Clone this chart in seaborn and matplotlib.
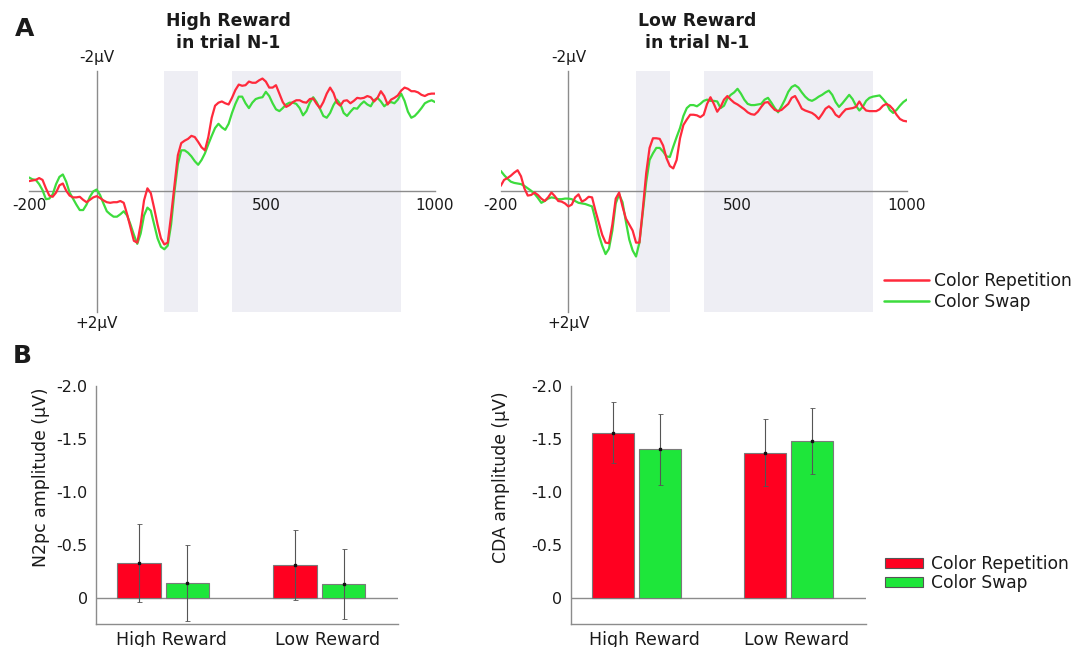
import numpy as np
import pandas as pd
import matplotlib
matplotlib.use("Agg")
import matplotlib.pyplot as plt
import matplotlib.transforms as mtrans
from matplotlib.lines import Line2D
from matplotlib.patches import Patch
import seaborn as sns

# ---------------- data ----------------
times = np.arange(-200, 1001, 10)  # ms, sampling grid of the ERP traces

# High reward in trial N-1 (µV)
hr_rep = [-0.17, -0.18, -0.19, -0.22, -0.19, -0.05, 0.07, 0.09, 0.02, -0.10,
          -0.13, -0.01, 0.07, 0.10, 0.10, 0.09, 0.14, 0.18, 0.14, 0.10,
          0.08, 0.11, 0.15, 0.18, 0.19, 0.18, 0.18, 0.16, 0.19, 0.38,
          0.60, 0.82, 0.85, 0.55, 0.15, -0.05, 0.03, 0.28, 0.55, 0.78,
          0.88, 0.85, 0.40, -0.10, -0.60, -0.80, -0.84, -0.87, -0.92, -0.90,
          -0.82, -0.73, -0.68, -0.90, -1.22, -1.42, -1.47, -1.49, -1.46, -1.44,
          -1.55, -1.68, -1.77, -1.75, -1.76, -1.82, -1.80, -1.80, -1.84, -1.87,
          -1.82, -1.72, -1.72, -1.76, -1.62, -1.48, -1.40, -1.43, -1.48, -1.51,
          -1.51, -1.48, -1.47, -1.53, -1.54, -1.45, -1.38, -1.48, -1.62, -1.72,
          -1.63, -1.47, -1.42, -1.50, -1.51, -1.46, -1.50, -1.55, -1.54, -1.55,
          -1.58, -1.56, -1.49, -1.55, -1.66, -1.58, -1.44, -1.52, -1.55, -1.59,
          -1.67, -1.72, -1.70, -1.66, -1.66, -1.64, -1.60, -1.58, -1.61, -1.62,
          -1.62]
hr_swap = [-0.23, -0.20, -0.19, -0.12, -0.02, 0.13, 0.12, 0.05, -0.12, -0.24,
           -0.28, -0.16, 0.02, 0.12, 0.22, 0.31, 0.31, 0.22, 0.09, 0.00,
           -0.03, 0.06, 0.20, 0.33, 0.38, 0.42, 0.42, 0.38, 0.33, 0.40,
           0.55, 0.72, 0.87, 0.70, 0.40, 0.27, 0.32, 0.55, 0.78, 0.92,
           0.96, 0.90, 0.55, 0.00, -0.45, -0.68, -0.68, -0.64, -0.58, -0.50,
           -0.44, -0.52, -0.63, -0.78, -0.92, -1.05, -1.12, -1.06, -1.02, -1.12,
           -1.30, -1.45, -1.57, -1.57, -1.46, -1.38, -1.47, -1.53, -1.55, -1.56,
           -1.65, -1.58, -1.46, -1.36, -1.33, -1.38, -1.44, -1.47, -1.47, -1.45,
           -1.38, -1.26, -1.33, -1.47, -1.56, -1.48, -1.37, -1.25, -1.22, -1.30,
           -1.43, -1.52, -1.45, -1.30, -1.25, -1.32, -1.38, -1.37, -1.44, -1.49,
           -1.44, -1.41, -1.51, -1.55, -1.49, -1.41, -1.46, -1.48, -1.46, -1.52,
           -1.62, -1.50, -1.32, -1.22, -1.25, -1.31, -1.38, -1.46, -1.49, -1.51,
           -1.48]

# Low reward in trial N-1 (µV)
lr_rep = [-0.09, -0.19, -0.22, -0.26, -0.31, -0.35, -0.25, -0.05, 0.07, 0.06,
          0.02, 0.06, 0.12, 0.16, 0.10, 0.02, 0.08, 0.16, 0.17, 0.20,
          0.25, 0.22, 0.10, 0.05, 0.17, 0.14, 0.09, 0.10, 0.32, 0.52,
          0.72, 0.85, 0.86, 0.55, 0.12, 0.02, 0.25, 0.45, 0.55, 0.65,
          0.85, 0.85, 0.30, -0.30, -0.72, -0.88, -0.88, -0.87, -0.76, -0.55,
          -0.42, -0.38, -0.52, -0.88, -1.10, -1.19, -1.27, -1.27, -1.26, -1.23,
          -1.27, -1.45, -1.56, -1.45, -1.32, -1.40, -1.52, -1.58, -1.52, -1.47,
          -1.44, -1.40, -1.36, -1.31, -1.28, -1.27, -1.32, -1.40, -1.47, -1.48,
          -1.41, -1.35, -1.33, -1.35, -1.40, -1.45, -1.55, -1.58, -1.48, -1.37,
          -1.34, -1.32, -1.30, -1.26, -1.20, -1.28, -1.37, -1.41, -1.36, -1.27,
          -1.23, -1.30, -1.36, -1.37, -1.38, -1.40, -1.49, -1.40, -1.34, -1.33,
          -1.33, -1.33, -1.36, -1.42, -1.45, -1.42, -1.36, -1.27, -1.20, -1.17,
          -1.16]
lr_swap = [-0.34, -0.27, -0.21, -0.16, -0.14, -0.13, -0.12, -0.09, -0.05, -0.01,
           0.04, 0.11, 0.19, 0.16, 0.12, 0.10, 0.11, 0.13, 0.13, 0.12,
           0.12, 0.13, 0.16, 0.19, 0.20, 0.21, 0.23, 0.25, 0.47, 0.72,
           0.90, 1.04, 0.95, 0.65, 0.20, 0.05, 0.18, 0.50, 0.80, 0.98,
           1.08, 0.85, 0.35, -0.15, -0.52, -0.63, -0.72, -0.72, -0.66, -0.58,
           -0.57, -0.74, -0.90, -1.05, -1.25, -1.38, -1.43, -1.43, -1.41, -1.45,
           -1.50, -1.52, -1.50, -1.50, -1.49, -1.38, -1.42, -1.54, -1.60, -1.64,
           -1.70, -1.62, -1.52, -1.45, -1.43, -1.43, -1.44, -1.45, -1.52, -1.55,
           -1.47, -1.38, -1.31, -1.41, -1.52, -1.65, -1.73, -1.76, -1.72, -1.64,
           -1.57, -1.52, -1.50, -1.53, -1.57, -1.60, -1.64, -1.67, -1.60, -1.48,
           -1.40, -1.46, -1.53, -1.60, -1.53, -1.42, -1.34, -1.40, -1.50, -1.55,
           -1.57, -1.58, -1.59, -1.53, -1.46, -1.35, -1.30, -1.35, -1.42, -1.48,
           -1.52]

windows = [(200, 300), (400, 900)]

conditions = ["High Reward", "Low Reward"]
series = ["Color Repetition", "Color Swap"]
n2pc_rep = [-0.33, -0.31]
n2pc_swap = [-0.14, -0.13]
n2pc_rep_err = [0.37, 0.33]
n2pc_swap_err = [0.36, 0.33]
cda_rep = [-1.56, -1.37]
cda_swap = [-1.40, -1.48]
cda_rep_err = [0.29, 0.315]
cda_swap_err = [0.34, 0.315]

# ---------------- style ----------------
sns.set_style("white")
plt.rcParams["font.family"] = ["DejaVu Sans"]
TXT = "#1a1a1a"
GRAY = "#8c8c8c"
SHADE = "#eeeef4"
LRED, LGREEN = "#ff2a3c", "#3ddc3d"
BRED, BGREEN = "#ff0020", "#1ee63a"

W, H = 1075, 647
fig = plt.figure(figsize=(W / 100, H / 100), dpi=100)


def ax_px(l, t, r, b):
    return fig.add_axes([l / W, 1 - b / H, (r - l) / W, (b - t) / H])


def erp_panel(l, r, rep, swap):
    ax = ax_px(l, 70.7, r, 312)
    for a, b in windows:
        ax.axvspan(a, b, color=SHADE, lw=0, zorder=0)
    n = len(times)
    df = pd.DataFrame({"t": np.concatenate([times, times]),
                       "v": np.concatenate([swap, rep]),
                       "cond": ["Color Swap"] * n + ["Color Repetition"] * n})
    sns.lineplot(data=df, x="t", y="v", hue="cond",
                 hue_order=["Color Swap", "Color Repetition"],
                 palette={"Color Repetition": LRED, "Color Swap": LGREEN},
                 legend=False, ax=ax, lw=1.6, zorder=3,
                 solid_joinstyle="round", solid_capstyle="round")
    ax.set_xlim(-200, 1000)
    ax.set_ylim(2, -2)
    ax.set_xlabel("")
    ax.set_ylabel("")
    ax.patch.set_alpha(0)
    for sp in ["top", "right"]:
        ax.spines[sp].set_visible(False)
    for sp in ["left", "bottom"]:
        ax.spines[sp].set_color(GRAY)
        ax.spines[sp].set_linewidth(1.0)
        ax.spines[sp].set_position(("data", 0))
        ax.spines[sp].set_zorder(2)
    ax.set_xticks([-200, 500, 1000])
    ax.set_xticklabels(["-200", "500", "1000"])
    ax.set_xticks(np.arange(-100, 1000, 100), minor=True)
    ax.tick_params(axis="x", which="major", direction="inout", length=7,
                   width=1, color=GRAY, pad=1, labelsize=11, labelcolor=TXT)
    ax.tick_params(axis="x", which="minor", direction="inout", length=5,
                   width=1, color=GRAY)
    ax.set_yticks([-2, 2])
    ax.set_yticklabels([])
    ax.tick_params(axis="y", direction="inout", length=6, width=1, color=GRAY)
    ax.annotate("-2µV", xy=(0, -2), xytext=(0, 4), textcoords="offset points",
                ha="center", va="bottom", fontsize=11, color=TXT,
                annotation_clip=False)
    ax.annotate("+2µV", xy=(0, 2), xytext=(0, -3), textcoords="offset points",
                ha="center", va="top", fontsize=11, color=TXT,
                annotation_clip=False)
    return ax


erp_panel(29, 435, hr_rep, hr_swap)
erp_panel(500.7, 906.7, lr_rep, lr_swap)

for x, l1, l2 in [(228, "High Reward", "in trial N-1"), (697, "Low Reward", "in trial N-1")]:
    fig.text(x / W, 1 - 21 / H, l1, ha="center", va="center", fontsize=12.4,
             fontweight="bold", color=TXT)
    fig.text(x / W, 1 - 43 / H, l2, ha="center", va="center", fontsize=12.4,
             fontweight="bold", color=TXT)

fig.text(24.5 / W, 1 - 29.5 / H, "A", ha="center", va="center", fontsize=18,
         fontweight="bold", color=TXT)
fig.text(22.5 / W, 1 - 356 / H, "B", ha="center", va="center", fontsize=18,
         fontweight="bold", color=TXT)

line_handles = [Line2D([], [], color=LRED, lw=1.8), Line2D([], [], color=LGREEN, lw=1.8)]
fig.legend(line_handles, series, loc="upper left",
           bbox_to_anchor=(884 / W, 1 - 272 / H), frameon=False, fontsize=12.3,
           handlelength=2.65, handletextpad=0.3, borderpad=0, borderaxespad=0,
           labelspacing=0.15, labelcolor=TXT)


def bar_panel(l, r, xl, rep, swap, rep_err, swap_err, ylabel, label_x):
    ax = ax_px(l, 386, r, 624)
    df = pd.DataFrame({"cond": conditions * 2,
                       "series": [series[0]] * 2 + [series[1]] * 2,
                       "v": list(rep) + list(swap)})
    sns.barplot(data=df, x="cond", y="v", hue="series", order=conditions,
                hue_order=series, palette=[BRED, BGREEN], errorbar=None,
                width=0.62, gap=0.1, legend=False, ax=ax, saturation=1,
                edgecolor="#7a7a7a", linewidth=0.8, zorder=2)
    for cont, vals, errs in zip(ax.containers, [rep, swap], [rep_err, swap_err]):
        xs = [b.get_x() + b.get_width() / 2 for b in cont]
        ax.errorbar(xs, vals, yerr=errs, fmt="none", ecolor="#555555",
                    elinewidth=0.8, capsize=1.8, capthick=0.6, zorder=4)
        ax.plot(xs, vals, ls="none", marker="s", ms=1.8, color="#111111", zorder=5)
    ax.axhline(0, color=GRAY, lw=1.0, zorder=1)
    ax.set_xlim(*xl)
    ax.set_ylim(0.25, -2.0)
    ax.set_yticks([-2.0, -1.5, -1.0, -0.5, 0])
    ax.set_yticklabels(["-2.0", "-1.5", "-1.0", "-0.5", "0"])
    ax.tick_params(axis="y", length=0, pad=6, labelsize=11.5, labelcolor=TXT)
    ax.tick_params(axis="x", direction="in", length=4, width=1, color=GRAY,
                   pad=5, labelsize=12.5, labelcolor=TXT)
    off = mtrans.ScaledTranslation(8 / 100, 0, fig.dpi_scale_trans)
    for lab in ax.get_xticklabels():
        lab.set_transform(lab.get_transform() + off)
    ax.set_xlabel("")
    ax.set_ylabel(ylabel, fontsize=12.4, color=TXT)
    ax.yaxis.set_label_coords((label_x - l) / (r - l), (624 - 477.5) / (624 - 386))
    for sp in ["top", "right"]:
        ax.spines[sp].set_visible(False)
    for sp in ["left", "bottom"]:
        ax.spines[sp].set_color(GRAY)
        ax.spines[sp].set_linewidth(1.0)
    return ax


bar_panel(96, 398.3, (-0.431, 1.506), n2pc_rep, n2pc_swap, n2pc_rep_err,
          n2pc_swap_err, "N2pc amplitude (µV)", 50.5)
bar_panel(570.7, 865.7, (-0.435, 1.51), cda_rep, cda_swap, cda_rep_err,
          cda_swap_err, "CDA amplitude (µV)", 510)

patch_handles = [Patch(facecolor=BRED, edgecolor="#555555", lw=0.8),
                 Patch(facecolor=BGREEN, edgecolor="#555555", lw=0.8)]
fig.legend(patch_handles, series, loc="upper left",
           bbox_to_anchor=(885 / W, 1 - 555 / H), frameon=False, fontsize=12.3,
           handlelength=2.2, handleheight=0.5, handletextpad=0.5, borderpad=0,
           borderaxespad=0, labelspacing=0.05, labelcolor=TXT)

fig.savefig("out.png", dpi=100)
